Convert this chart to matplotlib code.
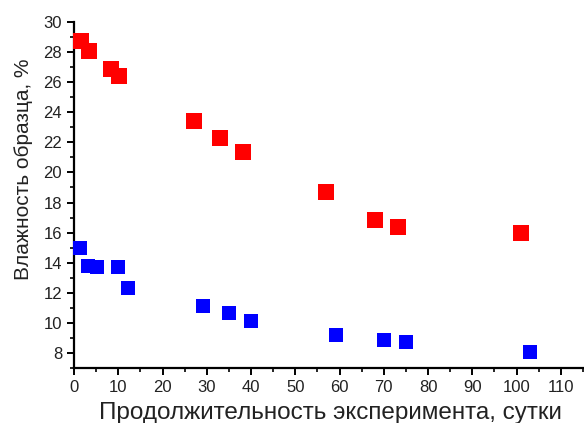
# влажность образца в зависимости от длительности эксперимента

import matplotlib.pyplot as plt
from matplotlib.ticker import MultipleLocator

plt.rcParams['font.family'] = ['Liberation Sans', 'DejaVu Sans']

red_days = [1.6, 3.4, 8.4, 10.2, 27.2, 33.0, 38.1, 56.9, 68.1, 73.1, 100.9]
red_moist = [28.75, 28.05, 26.9, 26.4, 23.45, 22.3, 21.35, 18.7, 16.85, 16.4, 16.0]

blue_days = [1.3, 3.2, 5.1, 10.0, 12.3, 29.2, 35.1, 40.1, 59.1, 70.1, 75.1, 103.0]
blue_moist = [15.0, 13.8, 13.73, 13.73, 12.3, 11.15, 10.66, 10.15, 9.2, 8.83, 8.72, 8.06]

fig = plt.figure(figsize=(5.84, 4.23), dpi=100)
ax = fig.add_axes([74 / 584, 55 / 423, 509 / 584, 346 / 423])

ax.scatter(red_days, red_moist, marker="s", s=130, color="#ff0000", linewidths=0, clip_on=False, zorder=3)
ax.scatter(blue_days, blue_moist, marker="s", s=90, color="#0000ff", linewidths=0, clip_on=False, zorder=3)

ax.set_xlim(0, 115)
ax.set_ylim(7, 30)
ax.xaxis.set_major_locator(MultipleLocator(10))
ax.xaxis.set_minor_locator(MultipleLocator(5))
ax.yaxis.set_minor_locator(MultipleLocator(1))
ax.set_yticks(range(8, 31, 2))

for side in ["top", "right"]:
    ax.spines[side].set_visible(False)
for side in ["left", "bottom"]:
    ax.spines[side].set_linewidth(1.6)

ax.tick_params(which="major", length=5, width=1.4, labelsize=12, colors="black", labelcolor="#222222")
ax.tick_params(which="minor", length=3, width=1.2)

ax.set_xlabel("Продолжительность эксперимента, сутки", fontsize=17.5, color="#222222")
ax.set_ylabel("Влажность образца, %", fontsize=15, color="#222222")
ax.xaxis.label.set_va("baseline")
ax.xaxis.set_label_coords(0.503, -0.146)
ax.yaxis.set_label_coords(-0.08, 0.575)

plt.savefig("out.png", dpi=100)
